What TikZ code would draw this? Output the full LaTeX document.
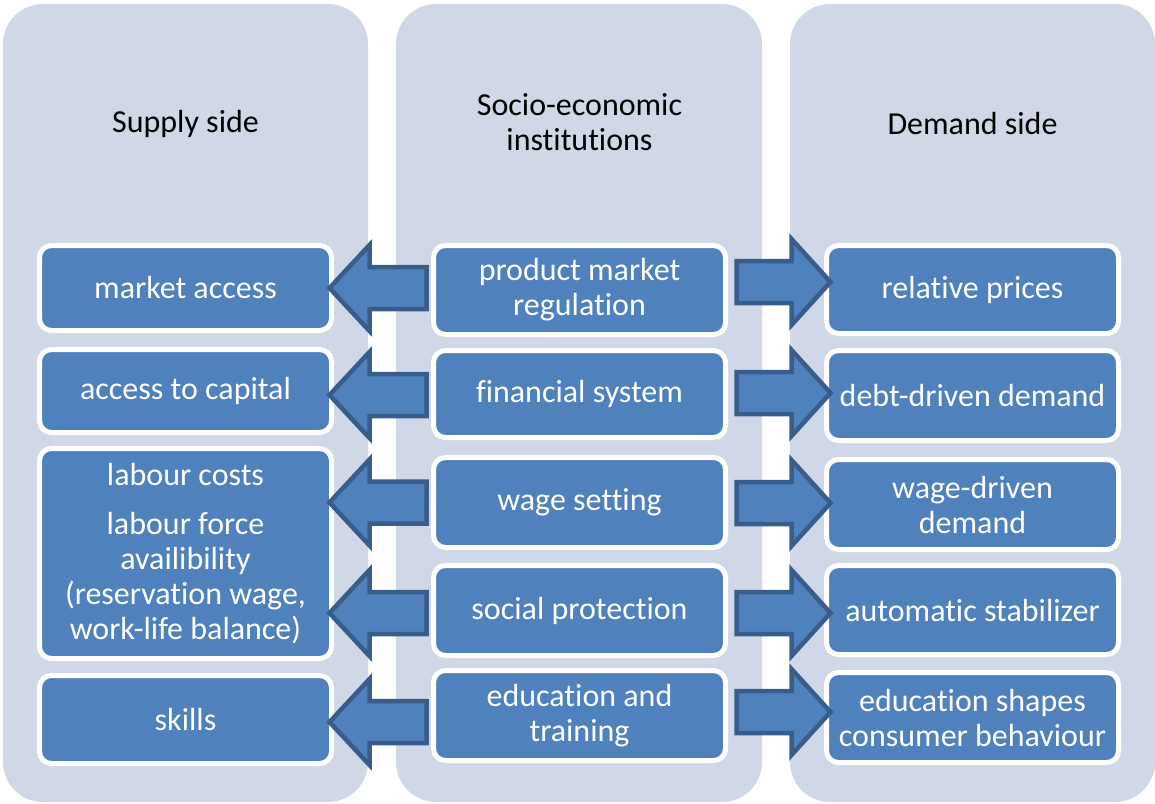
\documentclass[tikz,border=0pt]{standalone}
\usepackage{fontspec}
\setmainfont{Carlito}[Ligatures={NoCommon,NoContextual}]
\usetikzlibrary{calc}

\definecolor{panelgray}{HTML}{D0D8E8}
\definecolor{boxblue}{HTML}{4F81BD}
\definecolor{arrowedge}{HTML}{385D8A}

\tikzset{
  panel/.style={fill=panelgray, rounded corners=40pt},
  heading/.style={font=\fontsize{32}{35}\selectfont, align=center, text=black},
  box/.style={fill=boxblue, draw=white, line width=5pt, rounded corners=12pt,
    minimum width=292pt, inner sep=2pt, text=white, align=center,
    font=\fontsize{32}{35}\selectfont},
  blockarrow/.style={fill=boxblue, draw=arrowedge, line width=4.5pt, line join=miter}
}

\begin{document}
\begin{tikzpicture}[x=1pt, y=-1pt]
	\useasboundingbox (0,0) rectangle (1155,803);
	% three columns
	\fill[panel] (3,4) rectangle (368,802);
	\fill[panel] (396,4) rectangle (762,802);
	\fill[panel] (790,4) rectangle (1155,802);
	\node[heading] (supply) at (185.5,124) {Supply side};
	\node[heading] (inst) at (579.5,122.5) {Socio-economic\\institutions};
	\node[heading] (demand) at (972.5,124) {Demand side};
	% supply side
	\node[box, minimum height=85pt] (mktaccess) at (185.5,288) {market access};
	\node[box, minimum height=83pt] (capaccess) at (185.5,391) {access to capital};
	\node[box, minimum height=210pt] (labour) at (185.5,553.5) {labour costs\\[14pt]labour force\\availibility\\(reservation wage,\\work-life balance)};
	\node[box, minimum height=88pt] (skills) at (185.5,719.5) {skills};
	% institutions
	\node[box, minimum height=89pt] (prodreg) at (579.5,290) {product market\\regulation};
	\node[box, minimum height=87pt] (finsys) at (579.5,394) {financial system};
	\node[box, minimum height=90pt] (wageset) at (579.5,502.5) {wage setting};
	\node[box, minimum height=90pt] (socprot) at (579.5,610.5) {social protection};
	\node[box, minimum height=90pt] (edutrain) at (579.5,715.5) {education and\\training};
	% demand side
	\node[box, minimum height=88pt] (relprices) at (972.5,289.5) {relative prices};
	\node[box, minimum height=90pt] (debtdem) at (972.5,395.5) {debt-driven demand};
	\node[box, minimum height=90pt] (wagedem) at (972.5,504.5) {wage-driven\\demand};
	\node[box, minimum height=89pt] (autostab) at (972.5,610) {automatic stabilizer};
	\node[box, minimum height=90pt] (educons) at (972.5,717.5) {education shapes\\consumer behaviour};
	% arrows to the supply side
	\foreach \src/\dst/\dy in {prodreg/mktaccess/-2, finsys/capaccess/1, wageset/labour/0, socprot/labour/2.5, edutrain/skills/6.5}
		\draw[blockarrow] ($(\dst.east |- \src.center)+(-4.5,\dy)$) -- ++(40,-43) -- ++(0,22) -- ++(57,0) -- ++(0,42) -- ++(-57,0) -- ++(0,22) -- cycle;
	% arrows to the demand side
	\foreach \src/\dst/\dy in {prodreg/relprices/-8, finsys/debtdem/-1, wageset/wagedem/0.5, socprot/autostab/2.5, edutrain/educons/-3.5}
		\draw[blockarrow] ($(\dst.west |- \src.center)+(6.5,\dy)$) -- ++(-39,-43) -- ++(0,22) -- ++(-55,0) -- ++(0,42) -- ++(55,0) -- ++(0,22) -- cycle;
\end{tikzpicture}
\end{document}
